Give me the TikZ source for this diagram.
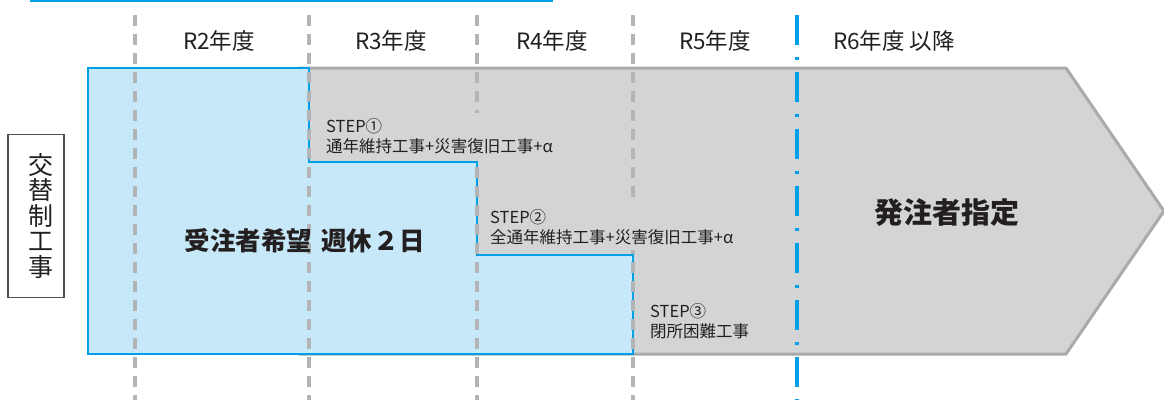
\documentclass[tikz,border=0pt]{standalone}
\usepackage{fontspec}
\setmainfont{Noto Sans CJK JP}
\definecolor{cyanline}{HTML}{00A0E9}
\definecolor{bluefill}{HTML}{C7E8F8}
\definecolor{grayfill}{HTML}{D3D4D6}
\definecolor{grayedge}{HTML}{A9AAAC}
\definecolor{graydash}{HTML}{B3B4B6}
\definecolor{ink}{HTML}{231F20}
\tikzset{
  yearlabel/.style={anchor=base, inner sep=0pt, text=ink, font=\fontsize{22.5}{26}\selectfont},
  steptext/.style={anchor=north west, align=left, fill=grayfill, inner xsep=3pt, inner ysep=5pt, text=ink, font=\fontsize{16.5}{20}\selectfont},
  gdash/.style={draw=graydash, line width=4.5pt, dash pattern=on 11pt off 8pt},
  bdash/.style={draw=cyanline, line width=3.5pt, dash pattern=on 30pt off 12pt on 3pt off 12pt},
  biglabel/.style={text=ink, font=\bfseries\fontsize{25.5}{28}\selectfont, inner sep=0pt},
}
\begin{document}
\begin{tikzpicture}[x=1pt,y=-1pt]
\useasboundingbox (0,0) rectangle (1164,400);
\fill[white] (0,0) rectangle (1164,400);
% top line
\coordinate (tl1) at (30,1);
\coordinate (tl2) at (553,1);
\draw[cyanline, line width=2.5pt] (tl1) -- (tl2);
% gray arrow
\draw[fill=grayfill, draw=grayedge, line width=3pt, line join=miter]
  (300,68) -- (1066,68) -- (1164,211) -- (1066,354) -- (300,354) -- cycle;
% blue region
\draw[fill=bluefill, draw=cyanline, line width=1.6pt]
  (88,68) -- (309,68) -- (309,162) -- (477,162) -- (477,255) -- (633,255) -- (633,354) -- (88,354) -- cycle;
% dashed year separators
\foreach \x in {135,309,477,633} {
  \coordinate (t\x) at (\x,15);
  \coordinate (b\x) at (\x,400);
  \draw[gdash] (t\x) -- (b\x);
}
\coordinate (bt) at (797,15);
\coordinate (bb) at (797,400);
\draw[bdash] (bt) -- (bb);
% year labels
\node[yearlabel] (y2) at (219,49.5) {R2年度};
\node[yearlabel] (y3) at (391,49.5) {R3年度};
\node[yearlabel] (y4) at (552,49.5) {R4年度};
\node[yearlabel] (y5) at (715,49.5) {R5年度};
\node[yearlabel] (y6) at (894,49.5) {R6年度 以降};
% left box
\node[draw=ink!80, line width=1.2pt, fill=white, minimum width=56pt, minimum height=163pt, inner sep=0pt] (box) at (36,216) {};
\node[align=center, inner sep=0pt, text=ink, font=\fontsize{25}{25.5}\selectfont] (kotai) at (40.5,216) {交\\替\\制\\工\\事};
% step texts
\node[steptext] (s1) at (323,113) {STEP①\\通年維持工事+災害復旧工事+α};
\node[steptext] (s2) at (487,204) {STEP②\\全通年維持工事+災害復旧工事+α};
\node[steptext] (s3) at (647,298) {STEP③\\閉所困難工事};
% main labels
\node[biglabel] (main1) at (305,241) {受注者希望\hspace{0.35em}週休\hspace{0.04em}２\hspace{0.04em}日};
\node[biglabel, font=\bfseries\fontsize{29}{32}\selectfont] (main2) at (947,213) {発注者指定};
\end{tikzpicture}
\end{document}
